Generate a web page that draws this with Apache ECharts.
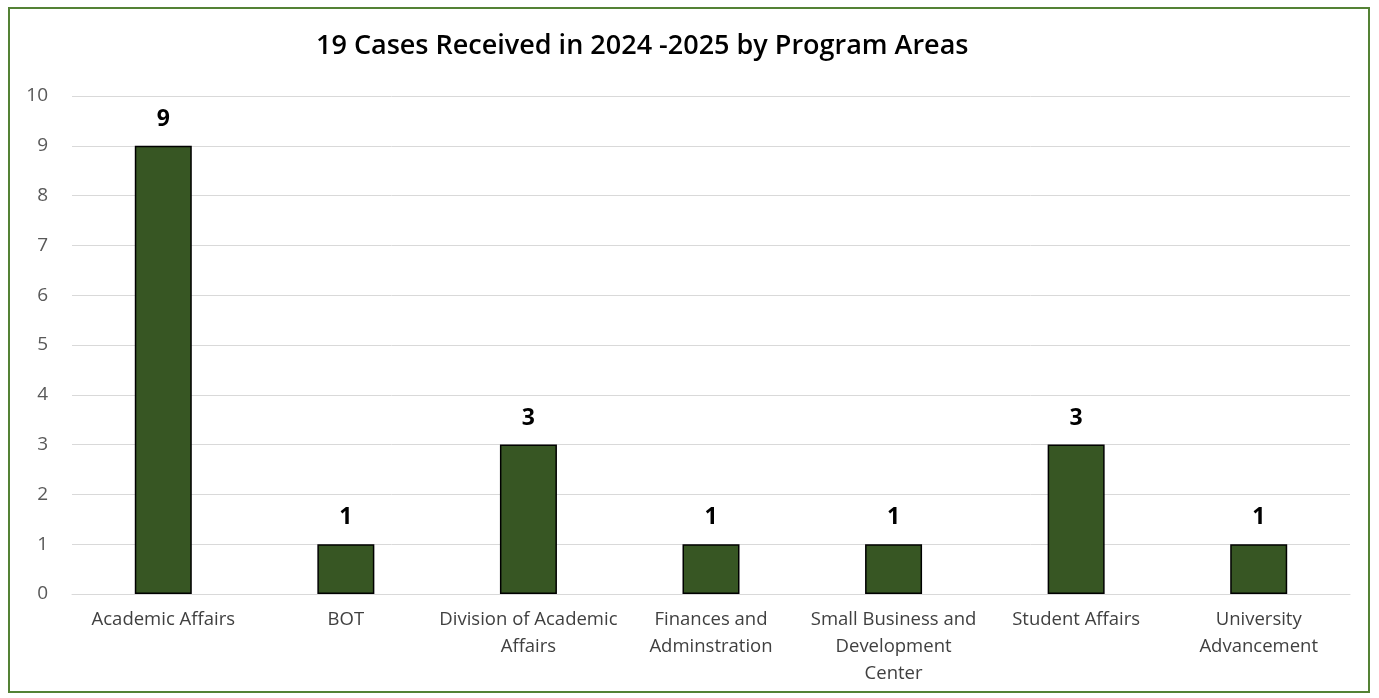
<!DOCTYPE html>
<html>
<head>
<meta charset="utf-8">
<script src="https://cdn.jsdelivr.net/npm/echarts@6/dist/echarts.min.js"></script>
<style>
html,body{margin:0;padding:0;background:#fff;}
#c{width:1379px;height:698px;}
</style>
</head>
<body>
<div id="c"></div>
<script>
const titleText = '19 Cases Received in 2024 -2025 by Program Areas';
const categories = [
  'Academic Affairs',
  'BOT',
  'Division of Academic\nAffairs',
  'Finances and\nAdminstration',
  'Small Business and\nDevelopment\nCenter',
  'Student Affairs',
  'University\nAdvancement'
];
const cases = [9, 1, 3, 1, 1, 3, 1];
const yTicks = [0, 1, 2, 3, 4, 5, 6, 7, 8, 9, 10];

const chart = echarts.init(document.getElementById('c'), null, {renderer: 'canvas'});
chart.setOption({
  backgroundColor: '#ffffff',
  animation: false,
  textStyle: {fontFamily: '"Open Sans", "Noto Sans", sans-serif'},
  title: {
    text: titleText,
    left: 311,
    top: 28,
    textStyle: {fontSize: 27, fontWeight: 600, color: '#000000', fontFamily: '"Open Sans", sans-serif'}
  },
  graphic: [{
    type: 'rect',
    shape: {x: 9, y: 8, width: 1360, height: 684},
    style: {fill: 'none', stroke: '#548235', lineWidth: 2},
    silent: true
  }],
  grid: {left: 72, right: 29, top: 96, bottom: 104, containLabel: false},
  xAxis: {
    type: 'category',
    data: categories,
    axisLine: {show: true, lineStyle: {color: '#d9d9d9', width: 1}},
    axisTick: {show: false},
    axisLabel: {
      interval: 0,
      color: '#404040',
      fontSize: 18.5,
      lineHeight: 27,
      margin: 12,
      align: 'center'
    }
  },
  yAxis: {
    type: 'value',
    min: yTicks[0],
    max: yTicks[yTicks.length - 1],
    interval: 1,
    axisLine: {show: false},
    axisTick: {show: false},
    splitLine: {lineStyle: {color: '#d9d9d9', width: 1}},
    axisLabel: {color: '#595959', fontSize: 19, margin: 24}
  },
  series: [{
    type: 'bar',
    data: cases,
    barWidth: 57,
    itemStyle: {color: '#375623', borderColor: '#000000', borderWidth: 1.5},
    label: {
      show: true,
      position: 'top',
      distance: 15,
      fontSize: 23,
      fontWeight: 'bold',
      color: '#000000'
    }
  }]
});
</script>
</body>
</html>
